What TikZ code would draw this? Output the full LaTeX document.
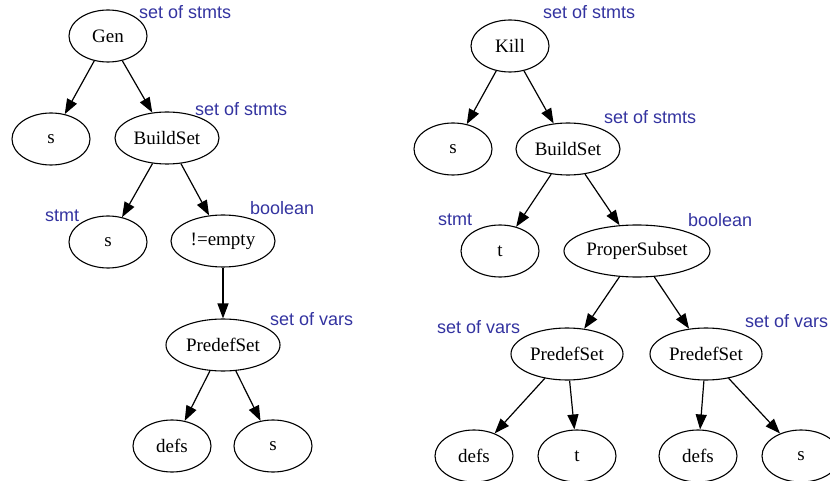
\documentclass[tikz,border=0pt]{standalone}
\usepackage{fontspec}
\setmainfont{Liberation Serif}
\setsansfont{Liberation Sans}
\usetikzlibrary{shapes.geometric,arrows.meta}
\definecolor{typeblue}{RGB}{51,51,160}

\begin{document}
\begin{tikzpicture}[x=1pt, y=-1pt,
  every node/.style={font=\fontsize{19}{22}\selectfont},
  tnode/.style={ellipse, draw, line width=1.1pt, minimum width=78, minimum height=52, inner sep=0pt},
  tlabel/.style={anchor=west, inner sep=0pt, text=typeblue, font=\sffamily\fontsize{18}{21}\selectfont},
  edge/.style={line width=1.2pt, -{Triangle[length=15pt,width=11pt]}}]
  \clip (0,0) rectangle (830,481);

  % Gen tree
  \node[tnode] (gen) at (108,36) {Gen};
  \node[tnode] (gens) at (51,139) {s};
  \node[tnode, minimum width=104] (genbuild) at (167,138) {BuildSet};
  \node[tnode] (gent) at (108,242) {s};
  \node[tnode, minimum width=104] (gennotempty) at (223,241) {!=empty};
  \node[tnode, minimum width=114] (genpredef) at (223,345) {PredefSet};
  \node[tnode] (gendefs) at (172,446) {defs};
  \node[tnode] (gens2) at (273,446) {s};

  \draw[edge] (gen) -- (gens);
  \draw[edge] (gen) -- (genbuild);
  \draw[edge] (genbuild) -- (gent);
  \draw[edge] (genbuild) -- (gennotempty);
  \draw[edge] (gennotempty) -- (genpredef);
  \draw[edge] (genpredef) -- (gendefs);
  \draw[edge] (genpredef) -- (gens2);

  \node[tlabel] (genlab1) at (139,12) {set of stmts};
  \node[tlabel] (genlab2) at (195,109) {set of stmts};
  \node[tlabel] (genlab3) at (45,216) {stmt};
  \node[tlabel] (genlab4) at (250,208) {boolean};
  \node[tlabel] (genlab5) at (270,319) {set of vars};

  % Kill tree
  \node[tnode] (kill) at (510,46) {Kill};
  \node[tnode] (kills) at (453,149) {s};
  \node[tnode, minimum width=104] (killbuild) at (568,149) {BuildSet};
  \node[tnode] (killt) at (500,251) {t};
  \node[tnode, minimum width=146] (killsubset) at (637,251) {ProperSubset};
  \node[tnode, minimum width=112] (killpredefa) at (567,354) {PredefSet};
  \node[tnode, minimum width=112] (killpredefb) at (706,354) {PredefSet};
  \node[tnode] (killdefsa) at (474,456) {defs};
  \node[tnode] (killt2) at (577,456) {t};
  \node[tnode] (killdefsb) at (698,456) {defs};
  \node[tnode] (kills2) at (801,456) {s};

  \draw[edge] (kill) -- (kills);
  \draw[edge] (kill) -- (killbuild);
  \draw[edge] (killbuild) -- (killt);
  \draw[edge] (killbuild) -- (killsubset);
  \draw[edge] (killsubset) -- (killpredefa);
  \draw[edge] (killsubset) -- (killpredefb);
  \draw[edge] (killpredefa) -- (killdefsa);
  \draw[edge] (killpredefa) -- (killt2);
  \draw[edge] (killpredefb) -- (killdefsb);
  \draw[edge] (killpredefb) -- (kills2);

  \node[tlabel] (killlab1) at (543,12) {set of stmts};
  \node[tlabel] (killlab2) at (604,117) {set of stmts};
  \node[tlabel] (killlab3) at (438,220) {stmt};
  \node[tlabel] (killlab4) at (688,220) {boolean};
  \node[tlabel] (killlab5) at (437,327) {set of vars};
  \node[tlabel] (killlab6) at (745,321) {set of vars};
\end{tikzpicture}
\end{document}
